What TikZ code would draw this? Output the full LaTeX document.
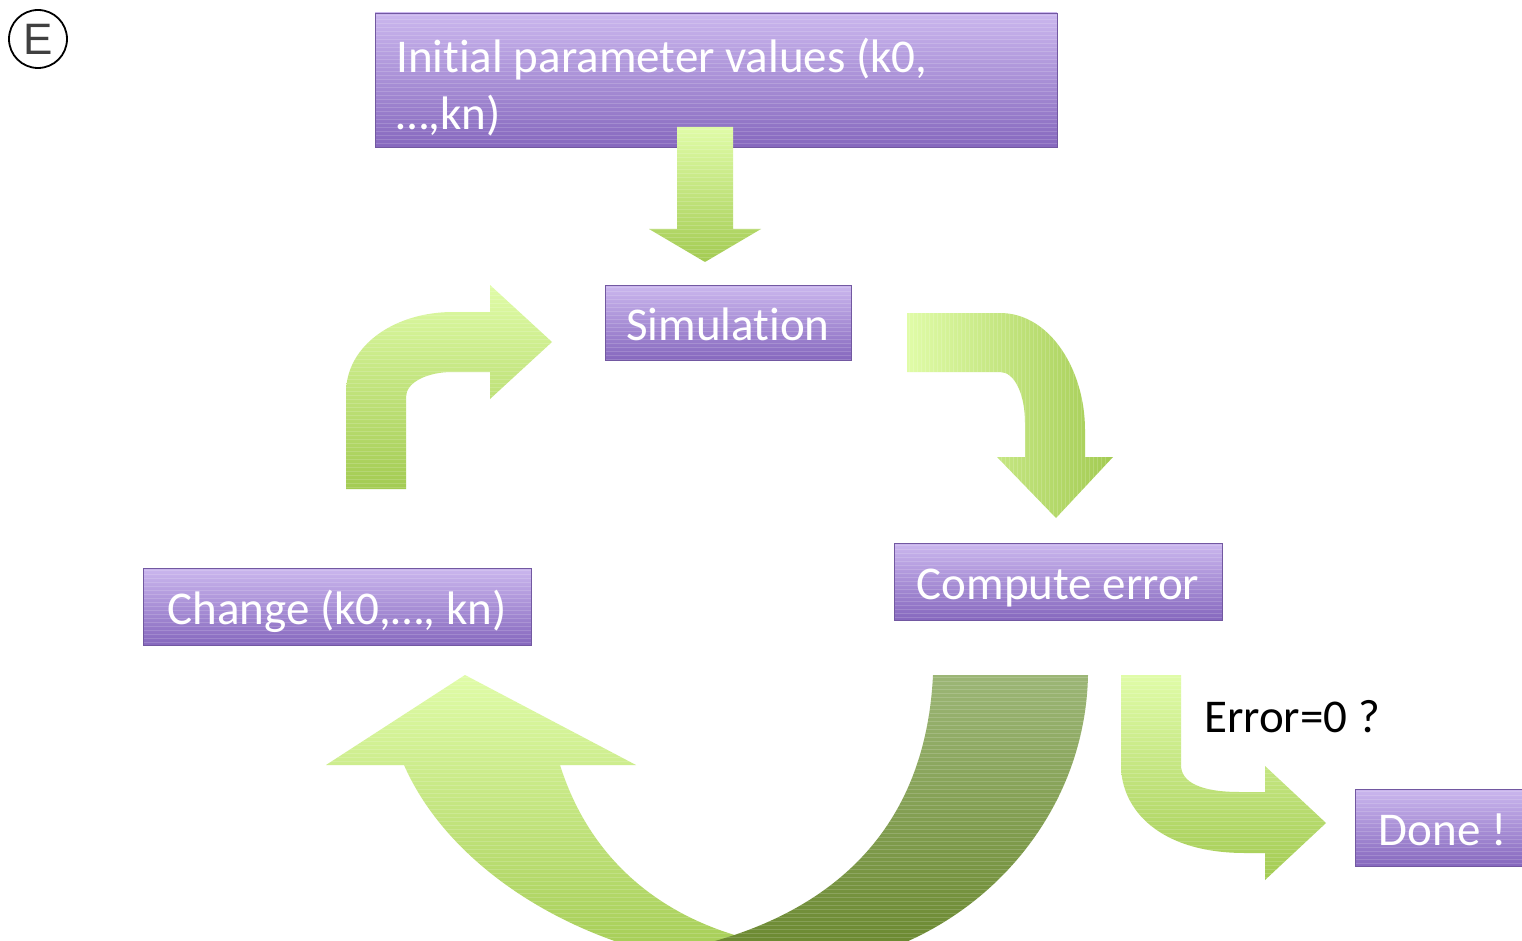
\documentclass[tikz,border=0pt]{standalone}
\usepackage{fontspec}
\setmainfont{Carlito}[Ligatures=NoCommon]
\newfontfamily\efont{Liberation Sans}
\definecolor{pTop}{RGB}{203,183,238}
\definecolor{pBot}{RGB}{134,104,190}
\definecolor{gLight}{RGB}{224,252,168}
\definecolor{gMid}{RGB}{163,203,82}
\definecolor{dTop}{RGB}{156,182,118}
\definecolor{dBot}{RGB}{104,134,44}
\begin{document}
\begin{tikzpicture}[x=1pt,y=-1pt,
  hstripes/.style={path picture={\foreach \k in {2,6,...,300} \draw[white, opacity=0.16, line width=0.7pt] ([yshift=-\k pt]path picture bounding box.north west) -- ([yshift=-\k pt]path picture bounding box.north east);}},
  vstripes/.style={path picture={\foreach \k in {2,6,...,200} \draw[white, opacity=0.16, line width=0.7pt] ([xshift=\k pt]path picture bounding box.north west) -- ([xshift=\k pt]path picture bounding box.south west);}},
  pbox/.style={rectangle, top color=pTop, bottom color=pBot, draw=pBot!85!black, line width=0.8pt, text=white, font=\fontsize{47}{57}\selectfont, inner sep=0pt, text height=36pt, text depth=0pt, hstripes},
  wtxt/.style={text=white, font=\fontsize{47}{57}\selectfont, inner sep=0pt},
  btxt/.style={text=black, font=\fontsize{47}{57}\selectfont, inner sep=0pt},
  garrow/.style={top color=gLight, bottom color=gMid, hstripes},
  harrow/.style={left color=gLight, right color=gMid, vstripes},
  darrow/.style={top color=dTop, bottom color=dBot, hstripes}]
\useasboundingbox (0,0) rectangle (1522,941);
\clip (0,0) rectangle (1522,941);
\fill[white] (0,0) rectangle (1522,941);

% letter mark
\node[circle, draw, line width=1.8pt, minimum size=58pt, inner sep=0pt, text=black!75, font=\efont\fontsize{44}{44}\selectfont] (mark) at (38,39) {E};

% boxes
\node[pbox, minimum width=682pt, minimum height=134pt] (init) at (716,80) {};
\node[wtxt, anchor=base west] (initA) at (396,73) {Initial parameter values (k0,};
\node[wtxt, anchor=base west] (initB) at (396,130) {…,kn)};
\node[pbox, minimum width=246pt, minimum height=75pt] (sim) at (728,322.5) {Simulation};
\node[pbox, minimum width=328pt, minimum height=77pt] (comp) at (1058,581.5) {Compute error};
\node[pbox, minimum width=388pt, minimum height=77pt] (chg) at (337,606.5) {Change (k0,…, kn)};
\node[pbox, minimum width=175pt, minimum height=77pt] (done) at (1442.5,827.5) {Done !};
\node[btxt] (err) at (1292,717) {Error=0 ?};

% down arrow
\path[garrow] (677,127) -- (733,127) -- (733,229) -- (761,229) -- (705,262) -- (649,229) -- (677,229) -- cycle;

% left curved arrow
\path[garrow] (346,489) -- (346,393) .. controls (346,345) and (395,312) .. (453,312) -- (490,312) -- (490,285) -- (552,342) -- (490,399) -- (490,372) -- (452,372) .. controls (428,372) and (406,382) .. (406,397) -- (406,489) -- cycle;

% right curved arrow
\path[harrow] (907,313) -- (1000,313) .. controls (1050,313) and (1085,370) .. (1085,430) -- (1085,457) -- (1113,457) -- (1056,518) -- (997,457) -- (1025,457) -- (1025,423) .. controls (1025,395) and (1015,372) .. (1000,372) -- (907,372) -- cycle;

% bottom right arrow
\path[garrow] (1121,675) -- (1181,675) -- (1181,765) .. controls (1181,782) and (1200,792) .. (1240,792) -- (1265,792) -- (1265,766) -- (1326,823) -- (1265,880) -- (1265,853) -- (1245,853) .. controls (1160,853) and (1121,810) .. (1121,765) -- cycle;

% big U arrow, light part
\path[garrow] (326,765) -- (465,675) -- (636,765) -- (560,765) .. controls (590,860) and (660,915) .. (745,938) -- (760,965) -- (720,965) .. controls (580,950) and (450,870) .. (404,765) -- cycle;
% big U arrow, dark part
\path[darrow] (933,675) -- (1088,675) .. controls (1085,830) and (960,950) .. (820,965) -- (690,965) -- (700,945) .. controls (820,915) and (925,840) .. (933,675) -- cycle;
\end{tikzpicture}
\end{document}
